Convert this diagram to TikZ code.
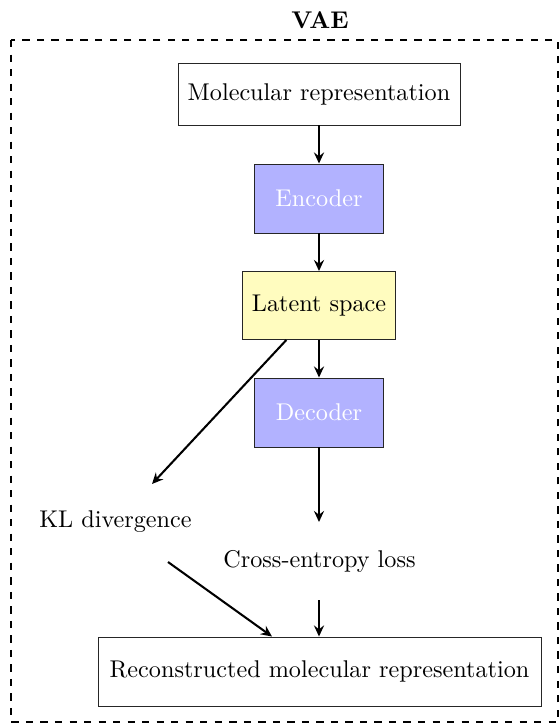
\documentclass[tikz,border=0pt]{standalone}
\usetikzlibrary{arrows.meta,calc}
% one drawing unit
\newcommand\pxu{0.41322pt}
\begin{document}
\begin{tikzpicture}[x=\pxu,y=-\pxu,
  box/.style={draw=black!85, line width=0.4pt, rectangle, inner sep=0pt, align=center},
  stage/.style={box, fill=blue!30, text=white, minimum width=129*\pxu, minimum height=69*\pxu},
  flow/.style={line width=0.85pt, -{Stealth[length=4.6pt,width=4.2pt,inset=1.6pt]}},
  plain/.style={inner sep=0pt}]
\useasboundingbox (0,0) rectangle (560,725);

% frame and title
\draw[thick, dashed] (11,40) rectangle (558,722);
\node[plain, font=\bfseries] (title) at (320,20) {VAE};

% pipeline boxes
\node[box, minimum width=282*\pxu, minimum height=62*\pxu] (mol) at (319,94) {Molecular representation};
\node[stage] (enc) at (319,198.5) {Encoder};
\node[box, fill=yellow!25, minimum width=153*\pxu, minimum height=68*\pxu] (lat) at (319,305.5) {Latent space};
\node[stage] (dec) at (319,412.5) {Decoder};
\node[box, minimum width=443*\pxu, minimum height=69*\pxu] (rec) at (319.5,671.5) {Reconstructed molecular representation};

% loss labels
\node[plain] (kl) at (115.5,522) {KL divergence};
\node[plain] (ce) at (319.5,561) {Cross-entropy loss};

% free ends of the loss arrows
\coordinate (klend) at (152,484);
\coordinate (decend) at (319,522);
\coordinate (klfrom) at (168,562);
\coordinate (cefrom) at (319,600);

% connectors
\draw[flow] (mol.south) -- (enc.north);
\draw[flow] (enc.south) -- (lat.north);
\draw[flow] (lat.south) -- (dec.north);
\draw[flow] (dec.south) -- (decend);
\draw[flow] ($(lat.south west)!0.288!(lat.south east)$) -- (klend);
\draw[flow] (klfrom) -- ($(rec.north west)!0.393!(rec.north east)$);
\draw[flow] (cefrom) -- (rec.north -| cefrom);
\end{tikzpicture}
\end{document}
